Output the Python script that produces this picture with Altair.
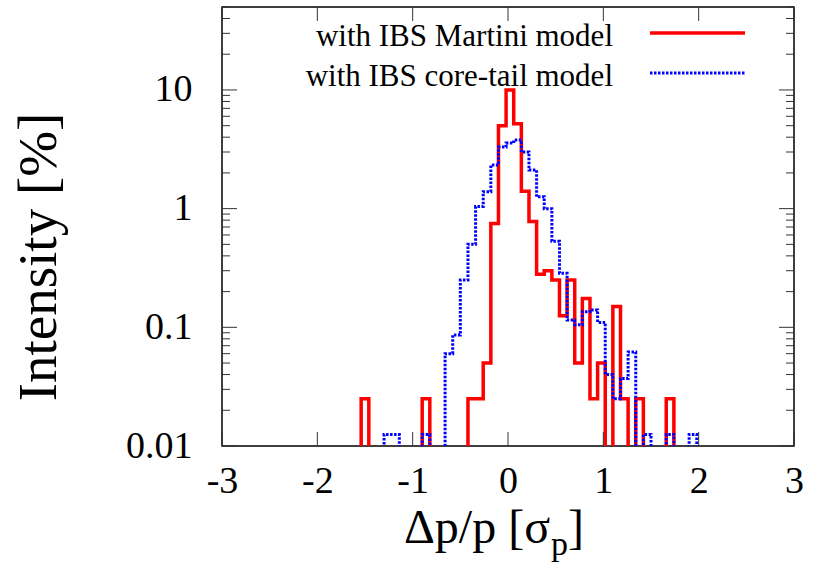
import altair as alt
import pandas as pd

# ---------------- data ----------------
BIN_WIDTH = 0.08
red_first_center = -1.58      # bin centre of first red value
red_values = [0, 0.025, 0, 0, 0, 0, 0, 0, 0, 0.025, 0, 0, 0, 0, 0,
              0.025, 0.025, 0.05, 0.75, 5, 10, 5.2, 1.4, 0.78, 0.28, 0.30,
              0.25, 0.125, 0.25, 0.05, 0.175, 0.025, 0.05, 0, 0.15, 0.025,
              0, 0.025, 0, 0, 0, 0.025, 0]
blue_first_center = -1.34     # bin centre of first blue value
blue_values = [0, 0.0125, 0.0125, 0, 0, 0, 0.0125, 0, 0, 0.06, 0.086, 0.25,
               0.5, 1.04, 1.39, 2.33, 3.3, 3.57, 3.79, 3.0, 2.12, 1.26, 1.0,
               0.53, 0.285, 0.115, 0.105, 0.135, 0.14, 0.11, 0.04, 0.025,
               0.037, 0.062, 0, 0.0125, 0, 0, 0.0125, 0, 0, 0.0125, 0]
series_labels = ["with IBS Martini model", "with IBS core-tail model"]

x_ticks = [-3, -2, -1, 0, 1, 2, 3]
y_major = [0.01, 0.1, 1, 10]
y_minor = [m * 10.0 ** e for e in range(-2, 2) for m in range(2, 10) if m * 10.0 ** e <= 50]
x_domain = [-3, 3]
y_domain = [0.01, 50]

# empty bins are drawn below the log axis (clipped away)
FLOOR = 1e-3

def make_df(first, vals, name):
    return pd.DataFrame({
        "x": [round(first + i * BIN_WIDTH, 4) for i in range(len(vals))],
        "v": [v if v > 0 else FLOOR for v in vals],
        "s": name,
    })

df_red = make_df(red_first_center, red_values, series_labels[0])
df_blue = make_df(blue_first_center, blue_values, series_labels[1])

# ---------------- layout ----------------
W, H = 572, 439
FONT = "Liberation Serif"
RED = "#ff0000"
BLUE = "#0000ff"
DASH = [2.5, 1.5]

xs = alt.Scale(domain=x_domain, nice=False, zero=False)
ys = alt.Scale(type="log", domain=y_domain, nice=False)

x_axis = alt.Axis(values=x_ticks, labelExpr="'' + datum.value", labelFont=FONT,
                  labelFontSize=38, labelColor="black", domain=False, ticks=False,
                  tickSize=0, labelPadding=16, labelFlush=False, labelOverlap=False,
                  grid=False, title=None)
y_axis = alt.Axis(values=y_major, labelExpr="'' + datum.value", labelFont=FONT,
                  labelFontSize=38, labelColor="black", domain=False, ticks=False,
                  tickSize=0, labelPadding=30, labelFlush=False, labelOverlap=False,
                  grid=False, title=None)

red_line = alt.Chart(df_red).mark_line(
    interpolate="step", clip=True, color=RED, strokeWidth=3.5
).encode(
    x=alt.X("x:Q", scale=xs, axis=x_axis),
    y=alt.Y("v:Q", scale=ys, axis=y_axis),
)

blue_line = alt.Chart(df_blue).mark_line(
    interpolate="step", clip=True, color=BLUE, strokeWidth=3, strokeDash=DASH
).encode(
    x=alt.X("x:Q", scale=xs, axis=x_axis),
    y=alt.Y("v:Q", scale=ys, axis=y_axis),
)

TICK_COLOR = "#333333"
df_xt = pd.DataFrame({"t": x_ticks})
df_ymaj = pd.DataFrame({"t": y_major})
df_ymin = pd.DataFrame({"t": y_minor})

def xtick(y0, y1):
    return alt.Chart(df_xt).mark_rule(color=TICK_COLOR, strokeWidth=1).encode(
        x=alt.X("t:Q", scale=xs, axis=x_axis), y=alt.value(y0), y2=alt.value(y1))

def ytick(df, x0, x1):
    return alt.Chart(df).mark_rule(color=TICK_COLOR, strokeWidth=1).encode(
        y=alt.Y("t:Q", scale=ys, axis=y_axis), x=alt.value(x0), x2=alt.value(x1))

ticks = [
    xtick(H, H - 14), xtick(0, 14),
    ytick(df_ymaj, 0, 15), ytick(df_ymaj, W, W - 15),
    ytick(df_ymin, 0, 8), ytick(df_ymin, W, W - 8),
]

# ---------------- legend ----------------
df_l1 = pd.DataFrame({"t": [series_labels[0]]})
df_l2 = pd.DataFrame({"t": [series_labels[1]]})
leg_text1 = alt.Chart(df_l1).mark_text(font=FONT, fontSize=31, align="right",
                                       baseline="alphabetic", color="black").encode(
    text="t:N", x=alt.value(391), y=alt.value(39))
leg_text2 = alt.Chart(df_l2).mark_text(font=FONT, fontSize=31, align="right",
                                       baseline="alphabetic", color="black").encode(
    text="t:N", x=alt.value(391), y=alt.value(79))
leg_line1 = alt.Chart(df_l1).mark_rule(color=RED, strokeWidth=3.5).encode(
    x=alt.value(428), x2=alt.value(523), y=alt.value(26))
leg_line2 = alt.Chart(df_l2).mark_rule(color=BLUE, strokeWidth=3, strokeDash=DASH).encode(
    x=alt.value(428), x2=alt.value(523), y=alt.value(66))

# ---------------- axis titles ----------------
x_title_main = ["Δp/p [σ"]
x_title_sub = ["p"]
x_title_end = ["]"]
y_title = ["Intensity [%]"]

xt1 = alt.Chart(pd.DataFrame({"t": x_title_main})).mark_text(
    font=FONT, fontSize=48, align="right", baseline="alphabetic", color="black"
).encode(text="t:N", x=alt.value(328), y=alt.value(536))
xt2 = alt.Chart(pd.DataFrame({"t": x_title_sub})).mark_text(
    font=FONT, fontSize=34, align="left", baseline="alphabetic", color="black"
).encode(text="t:N", x=alt.value(329), y=alt.value(548))
xt3 = alt.Chart(pd.DataFrame({"t": x_title_end})).mark_text(
    font=FONT, fontSize=48, align="left", baseline="alphabetic", color="black"
).encode(text="t:N", x=alt.value(346), y=alt.value(536))
yt = alt.Chart(pd.DataFrame({"t": y_title})).mark_text(
    font=FONT, fontSize=55, align="center", baseline="middle", angle=270, color="black"
).encode(text="t:N", x=alt.value(-183), y=alt.value(250))

chart = alt.layer(
    red_line, blue_line, *ticks,
    leg_text1, leg_text2, leg_line1, leg_line2,
    xt1, xt2, xt3, yt,
).properties(
    width=W, height=H,
    padding={"left": 222, "top": 7, "right": 25, "bottom": 127},
    autosize=alt.AutoSizeParams(type="none"),
    background="white",
).configure_view(
    stroke="black", strokeWidth=1.5
)

chart.save("out.html", embed_options={"renderer": "svg", "actions": False})
